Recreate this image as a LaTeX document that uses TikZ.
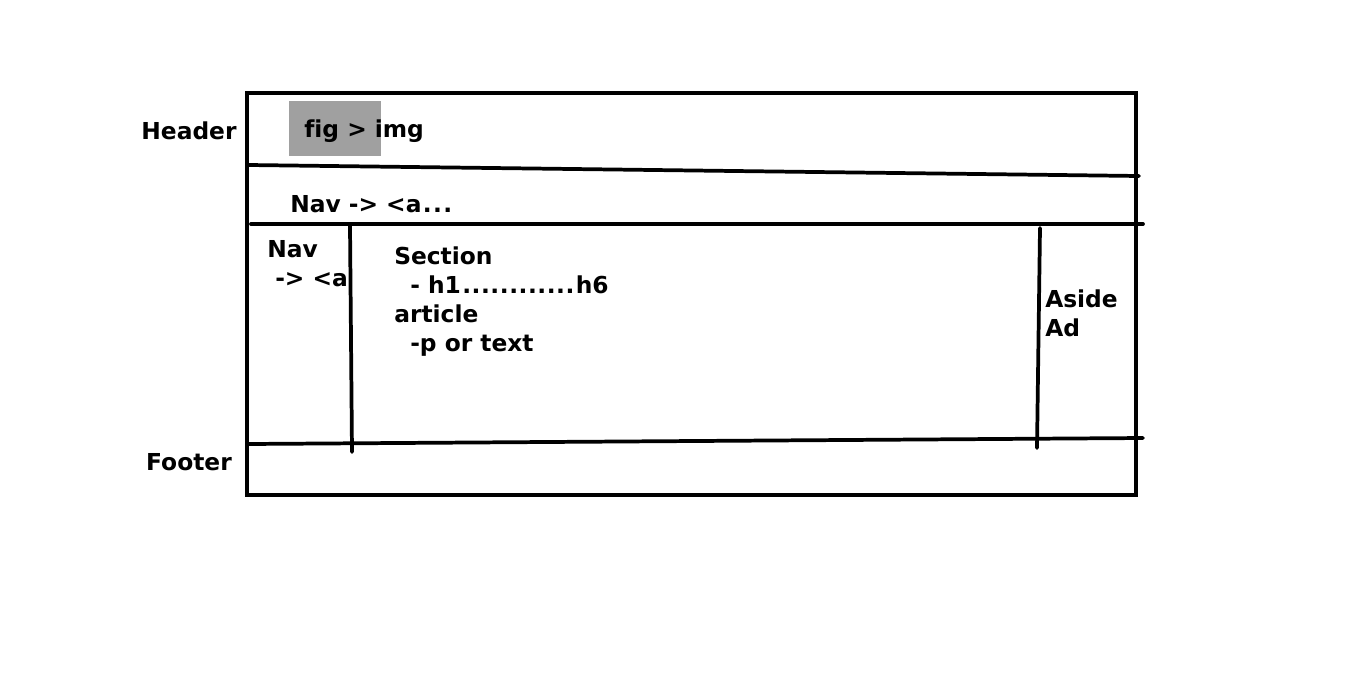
\documentclass[tikz,border=0pt]{standalone}
\usepackage{fontspec}
\setmainfont[Ligatures=NoCommon]{DejaVu Sans}
\definecolor{figgray}{HTML}{A0A0A0}
\begin{document}
\begin{tikzpicture}[x=0.75pt,y=-0.75pt,
  lbl/.style={font=\fontsize{17.5}{21.75}\selectfont\bfseries, inner sep=0pt, align=left},
  frame/.style={line width=3pt},
  sketch/.style={line width=2.8pt, line cap=round}]
\useasboundingbox[fill=white] (0,0) rectangle (1366,697);
% gray figure box
\fill[figgray] (289,101) rectangle (381,156);
% labels
\node[lbl, anchor=center] (header) at (189,131) {Header};
\node[lbl, anchor=center] (footer) at (189,462) {Footer};
\node[lbl, anchor=west] (fig) at (304,131) {fig > img};
\node[lbl, anchor=west] (navtop) at (290,204) {Nav -> <a\kern1pt.\kern1pt.\kern1pt.};
\node[lbl, anchor=west] (navleft) at (267,263.5) {Nav\\\hspace*{6pt}-> <a};
\node[lbl, anchor=west] (section) at (394,301.5) {Section\\\hspace*{12pt}- h1\kern1pt.\kern0.4pt.\kern0.4pt.\kern0.4pt.\kern0.4pt.\kern0.4pt.\kern0.4pt.\kern0.4pt.\kern0.4pt.\kern0.4pt.\kern0.4pt.\kern0.4pt.\kern1pt h6\\article\\\hspace*{12pt}-p or text};
\node[lbl, anchor=west] (aside) at (1045,313.5) {Aside\\Ad};
% outer frame
\draw[frame] (247,93) rectangle (1136,495);
% dividers
\coordinate (h1a) at (249,165); \coordinate (h1b) at (1139,176);
\coordinate (h2a) at (251,224); \coordinate (h2b) at (1143,224);
\coordinate (f1a) at (247,444); \coordinate (f1b) at (1143,438);
\coordinate (v1a) at (350,226); \coordinate (v1b) at (352,452);
\coordinate (v2a) at (1040,228); \coordinate (v2b) at (1037,448);
\draw[sketch] (h1a) -- (h1b);
\draw[sketch] (h2a) -- (h2b);
\draw[sketch] (f1a) -- (f1b);
\draw[sketch] (v1a) -- (v1b);
\draw[sketch] (v2a) -- (v2b);
\end{tikzpicture}
\end{document}
